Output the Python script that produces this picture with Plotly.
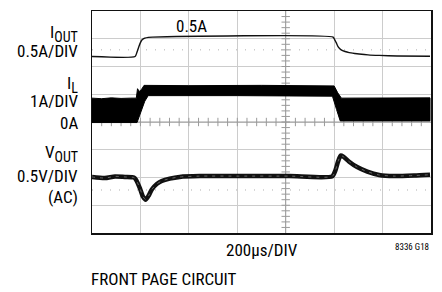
import plotly.graph_objects as go

# ---- data (time in µs, 200 µs/DIV; vertical in screen divisions) ----
iout_t = [0, 178, 186, 193, 200, 207, 218, 232, 250, 996, 1003, 1009, 1016, 1029, 1045, 1062, 1085, 1103, 1140, 1186, 1260, 1396]
iout_y = [6.36, 6.36, 6.52, 6.70, 6.86, 6.96, 7.02, 7.05, 7.06, 7.06, 6.95, 6.85, 6.72, 6.60, 6.54, 6.50, 6.47, 6.45, 6.42, 6.40, 6.38, 6.37]

il_top_t = [0, 40, 80, 120, 160, 183, 188, 195, 205, 215, 400, 700, 1000, 1015, 1030, 1200, 1396]
il_top_y = [4.86, 4.84, 4.87, 4.85, 4.86, 4.86, 5.20, 5.10, 5.18, 5.32, 5.31, 5.32, 5.30, 5.05, 4.86, 4.86, 4.87]
il_bot_t = [0, 186, 200, 218, 232, 600, 993, 1010, 1025, 1396]
il_bot_y = [3.98, 3.98, 4.32, 4.75, 4.95, 4.95, 4.93, 4.45, 4.04, 4.04]

vout_t = [0, 53, 95, 136, 173, 181, 198, 210, 222, 235, 247, 268, 288, 321, 362, 445, 609, 815, 992, 1005, 1017, 1027, 1038, 1062, 1095, 1137, 1186, 1248, 1330, 1396]
vout_y = [2.02, 1.98, 2.04, 2.02, 2.00, 1.93, 1.61, 1.32, 1.20, 1.36, 1.57, 1.77, 1.875, 1.96, 2.02, 2.05, 2.05, 2.05, 2.04, 2.25, 2.60, 2.79, 2.75, 2.57, 2.375, 2.21, 2.09, 2.05, 2.07, 2.10]

ref_levels = [6.6, 1.55]          # dotted channel reference markers
x_range = [0, 1400]
y_range = [0, 8]
x_center = 800
y_center = 4

FONT = "Liberation Sans Narrow, Arial Narrow, Roboto Condensed, DejaVu Sans Condensed, Liberation Sans, sans-serif"

fig = go.Figure()

# center cross lines with minor ticks
fig.add_trace(go.Scatter(x=[x_center, x_center], y=y_range, mode="lines",
                         line=dict(color="#9a9a9a", width=1), hoverinfo="skip"))
fig.add_trace(go.Scatter(x=x_range, y=[y_center, y_center], mode="lines",
                         line=dict(color="#9a9a9a", width=1), hoverinfo="skip"))
ty = [i * 0.2 for i in range(1, 40)]
fig.add_trace(go.Scatter(x=[x_center] * len(ty), y=ty, mode="markers",
                         marker=dict(symbol="line-ew", size=6, line=dict(width=1, color="#9a9a9a")),
                         hoverinfo="skip"))
tx = [i * 40 for i in range(1, 35)]
fig.add_trace(go.Scatter(x=tx, y=[y_center] * len(tx), mode="markers",
                         marker=dict(symbol="line-ns", size=6, line=dict(width=1, color="#9a9a9a")),
                         hoverinfo="skip"))
for lv in ref_levels:
    fig.add_trace(go.Scatter(x=x_range, y=[lv, lv], mode="lines",
                             line=dict(color="#b0b0b0", width=1, dash="1px,8px"), hoverinfo="skip"))

# I_OUT
fig.add_trace(go.Scatter(x=iout_t, y=iout_y, mode="lines", line=dict(color="#111", width=1.4, shape="spline", smoothing=0.5)))

# I_L band
poly_x = il_top_t + il_bot_t[::-1]
poly_y = il_top_y + il_bot_y[::-1]
fig.add_trace(go.Scatter(x=poly_x, y=poly_y, mode="lines", fill="toself", fillcolor="#000",
                         line=dict(color="#000", width=1)))

# V_OUT
fig.add_trace(go.Scatter(x=vout_t, y=vout_y, mode="lines", line=dict(color="#111", width=4.5, shape="spline", smoothing=0.6)))
fig.add_trace(go.Scatter(x=vout_t, y=vout_y, mode="lines", line=dict(color="#8a8a8a", width=0.7, dash="3px,5px", shape="spline", smoothing=0.6)))

axis_common = dict(showticklabels=False, ticks="", zeroline=False, showgrid=True,
                   gridcolor="#cccccc", gridwidth=1, showline=True, mirror=True,
                   linecolor="#111", linewidth=1.5, fixedrange=True)
fig.update_xaxes(range=x_range, dtick=200, tick0=0, **axis_common)
fig.update_yaxes(range=y_range, dtick=1, tick0=0, **axis_common)

def lab(text, y, size=17):
    fig.add_annotation(text=text, xref="paper", yref="y", x=-0.035, y=y, xanchor="right",
                       yanchor="middle", showarrow=False, font=dict(size=size, color="#000", family=FONT))

SUB = "<sub><span style='font-size:14px'>%s</span></sub>"
lab("I" + SUB % "OUT", 7.2)
lab("0.5A/DIV", 6.55)
lab("I" + SUB % "L", 5.35)
lab("1A/DIV", 4.75)
lab("0A", 3.98)
lab("V" + SUB % "OUT", 2.85)
lab("0.5V/DIV", 2.05)
lab("(AC)", 1.3)

fig.add_annotation(text="0.5A", x=410, y=7.45, xref="x", yref="y", showarrow=False,
                   font=dict(size=17, color="#000", family=FONT))
fig.add_annotation(text="200µs/DIV", x=0.5, y=-0.078, xref="paper", yref="paper", showarrow=False,
                   xanchor="center", yanchor="middle", font=dict(size=17, color="#000", family=FONT))
fig.add_annotation(text="8336 G18", x=1.0, y=-0.0625, xref="paper", yref="paper", showarrow=False,
                   xanchor="right", yanchor="middle", font=dict(size=9, color="#000", family=FONT))
fig.add_annotation(text="FRONT PAGE CIRCUIT", x=-0.009, y=-0.2076, xref="paper", yref="paper", showarrow=False,
                   xanchor="left", yanchor="middle", font=dict(size=17, color="#000", family=FONT))

fig.update_layout(width=442, height=292, margin=dict(l=92, r=10, t=9, b=59),
                  paper_bgcolor="white", plot_bgcolor="white", showlegend=False,
                  font=dict(family=FONT, color="#000"))

fig.write_html("out.html", config={"displayModeBar": False, "staticPlot": True},
               post_script="document.body.style.margin='0';document.body.style.overflow='hidden';")
